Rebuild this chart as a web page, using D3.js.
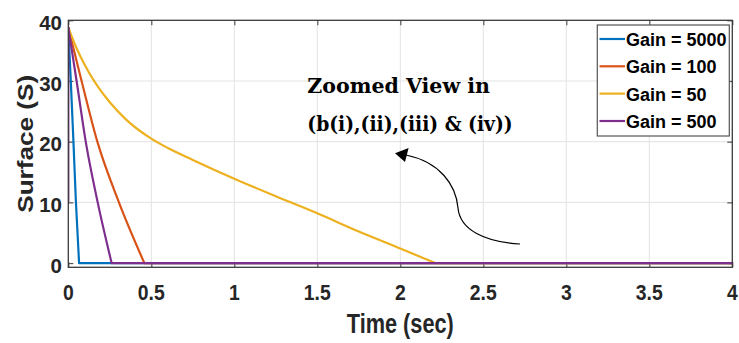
<!DOCTYPE html>
<html>
<head>
<meta charset="utf-8">
<script src="https://cdn.jsdelivr.net/npm/d3@7"></script>
<style>
  html, body { margin: 0; padding: 0; background: #ffffff; }
  svg { display: block; }
</style>
</head>
<body>
<div id="chart"></div>
<script>
// ---------------- data ----------------
const seriesNames = ["Gain = 5000", "Gain = 100", "Gain = 50", "Gain = 500"];
const seriesColors = ["#0072BD", "#D95319", "#EDB120", "#7E2F8E"];

const gain5000Time = [0, 0.015, 0.031, 0.046, 0.065, 4];
const gain5000Surf = [38.8, 30, 20, 10, 0, 0];

const gain100Time = [0, 0.08, 0.175, 0.305, 0.458, 4];
const gain100Surf = [38.8, 30, 20, 10, 0, 0];

const gain50Time = [0, 0.05, 0.1, 0.165, 0.25, 0.35, 0.5, 0.6, 0.75, 1.0, 1.25, 1.5, 1.75, 2.0, 2.21, 4];
const gain50Surf = [38.8, 35.4, 32.6, 29.6, 26.5, 23.6, 20.5, 18.95, 17.0, 13.9, 11.0, 8.2, 5.2, 2.4, 0, 0];

const gain500Time = [0, 0, 0.05, 0.105, 0.177, 0.261, 4];
const gain500Surf = [10, 38.8, 30, 20, 10, 0, 0];

const xTickValues = [0, 0.5, 1, 1.5, 2, 2.5, 3, 3.5, 4];
const xTickLabels = ["0", "0.5", "1", "1.5", "2", "2.5", "3", "3.5", "4"];
const yTickValues = [0, 10, 20, 30, 40];
const yTickLabels = ["0", "10", "20", "30", "40"];

const xAxisTitle = "Time (sec)";
const yAxisTitle = "Surface (S)";
const annotationLines = ["Zoomed View in", "(b(i),(ii),(iii) & (iv))"];

// ---------------- layout ----------------
const W = 739, H = 343;
const plotLeft = 68.3, plotRight = 732.3, plotTop = 20.3, plotBottom = 267.3;

const x = d3.scaleLinear().domain([0, 4]).range([plotLeft, plotRight]);
const y = d3.scaleLinear().domain([-0.7, 40]).range([plotBottom, plotTop]);

const svg = d3.select("#chart").append("svg")
  .attr("width", W).attr("height", H)
  .attr("viewBox", `0 0 ${W} ${H}`);

const axisColor = "#262626";
const sansBold = "'Liberation Sans', Arial, Helvetica, sans-serif";

// grid
const grid = svg.append("g");
grid.selectAll("line.gx").data(xTickValues.slice(1, -1)).join("line")
  .attr("x1", d => x(d)).attr("x2", d => x(d))
  .attr("y1", plotTop).attr("y2", plotBottom)
  .attr("stroke", "#e3e3e3").attr("stroke-width", 1);
grid.selectAll("line.gy").data(yTickValues.filter(v => v > 0 && v < 40)).join("line")
  .attr("x1", plotLeft).attr("x2", plotRight)
  .attr("y1", d => y(d)).attr("y2", d => y(d))
  .attr("stroke", "#e3e3e3").attr("stroke-width", 1);

// axes via d3 axis generators (inner ticks, MATLAB style)
const tickLen = 5;
const bottomAxis = d3.axisBottom(x).tickValues(xTickValues).tickSize(-tickLen).tickFormat("");
const topAxis = d3.axisTop(x).tickValues(xTickValues).tickSize(-tickLen).tickFormat("");
const leftAxis = d3.axisLeft(y).tickValues(yTickValues).tickSize(-tickLen).tickFormat("");
const rightAxis = d3.axisRight(y).tickValues(yTickValues).tickSize(-tickLen).tickFormat("");

function styleAxis(g) {
  g.selectAll("path").remove();
  g.selectAll("line").attr("stroke", "#555").attr("stroke-width", 1.2);
}
svg.append("g").attr("transform", `translate(0,${plotBottom})`).call(bottomAxis).call(styleAxis);
svg.append("g").attr("transform", `translate(0,${plotTop})`).call(topAxis).call(styleAxis);
svg.append("g").attr("transform", `translate(${plotLeft},0)`).call(leftAxis).call(styleAxis);
svg.append("g").attr("transform", `translate(${plotRight},0)`).call(rightAxis).call(styleAxis);

// data lines
const seriesData = [
  gain5000Time.map((t, i) => [t, gain5000Surf[i]]),
  gain100Time.map((t, i) => [t, gain100Surf[i]]),
  gain50Time.map((t, i) => [t, gain50Surf[i]]),
  gain500Time.map((t, i) => [t, gain500Surf[i]])
];
svg.append("clipPath").attr("id", "plotclip").append("rect")
  .attr("x", plotLeft).attr("y", plotTop - 2)
  .attr("width", plotRight - plotLeft).attr("height", plotBottom - plotTop + 2);

const linesG = svg.append("g").attr("clip-path", "url(#plotclip)");
const linearGen = d3.line().x(d => x(d[0])).y(d => y(d[1])).curve(d3.curveLinear);
const smoothGen = d3.line().x(d => x(d[0])).y(d => y(d[1])).curve(d3.curveMonotoneX);

seriesData.forEach((pts, i) => {
  // prefix: points sharing x = 0 (vertical part), descending part smooth, flat tail linear
  let j0 = 0;
  while (j0 + 1 < pts.length && pts[j0 + 1][0] === pts[0][0]) j0++;
  let k = pts.findIndex(p => p[1] === 0);
  const parts = [];
  if (j0 > 0) parts.push([pts.slice(0, j0 + 1), linearGen]);
  parts.push([pts.slice(j0, k + 1), smoothGen]);
  parts.push([pts.slice(k), linearGen]);
  const g = linesG.append("g");
  parts.forEach(([seg, gen]) => {
    g.append("path").datum(seg)
      .attr("d", gen)
      .attr("fill", "none")
      .attr("stroke", seriesColors[i])
      .attr("stroke-width", 2.2)
      .attr("stroke-linejoin", "round")
      .attr("stroke-linecap", "round");
  });
});

// box
svg.append("rect")
  .attr("x", plotLeft).attr("y", plotTop)
  .attr("width", plotRight - plotLeft).attr("height", plotBottom - plotTop)
  .attr("fill", "none").attr("stroke", "#3a3a3a").attr("stroke-width", 1.3);

// tick labels
svg.append("g").selectAll("text").data(yTickValues).join("text")
  .attr("x", 62).attr("y", d => y(d) + 9.8)
  .attr("text-anchor", "end")
  .attr("font-family", sansBold).attr("font-weight", "bold")
  .attr("font-size", 20.5).attr("fill", axisColor)
  .text((d, i) => yTickLabels[i]);

svg.append("g").selectAll("text").data(xTickValues).join("text")
  .attr("transform", d => `translate(${x(d)},300) scale(0.9,1)`)
  .attr("text-anchor", "middle")
  .attr("font-family", sansBold).attr("font-weight", "bold")
  .attr("font-size", 21.5).attr("fill", axisColor)
  .text((d, i) => xTickLabels[i]);

// axis titles
svg.append("text")
  .attr("x", (plotLeft + plotRight) / 2).attr("y", 333)
  .attr("text-anchor", "middle")
  .attr("font-family", sansBold).attr("font-weight", "bold")
  .attr("font-size", 27.5).attr("fill", axisColor)
  .attr("textLength", 107).attr("lengthAdjust", "spacingAndGlyphs")
  .text(xAxisTitle);

svg.append("text")
  .attr("transform", `translate(33,${(plotTop + plotBottom) / 2}) rotate(-90)`)
  .attr("text-anchor", "middle")
  .attr("font-family", sansBold).attr("font-weight", "bold")
  .attr("font-size", 22.3).attr("fill", axisColor)
  .attr("textLength", 138).attr("lengthAdjust", "spacingAndGlyphs")
  .text(yAxisTitle);

// legend
const legX = 597.3, legY = 25, legW = 132, legH = 111;
const legend = svg.append("g");
legend.append("rect")
  .attr("x", legX).attr("y", legY).attr("width", legW).attr("height", legH)
  .attr("fill", "#ffffff").attr("stroke", "#555").attr("stroke-width", 1.2);
const rowY = [39, 66.3, 93.6, 121];
seriesNames.forEach((name, i) => {
  legend.append("line")
    .attr("x1", 599.5).attr("x2", 625)
    .attr("y1", rowY[i]).attr("y2", rowY[i])
    .attr("stroke", seriesColors[i]).attr("stroke-width", 2.2);
  legend.append("text")
    .attr("x", 626).attr("y", rowY[i] + 7)
    .attr("font-family", sansBold).attr("font-weight", "bold")
    .attr("font-size", 18).attr("fill", "#000")
    .text(name);
});

// annotation
const serifBold = "'DejaVu Serif', 'Liberation Serif', serif";
svg.append("text")
  .attr("x", 307.3).attr("y", 93.3)
  .attr("font-family", serifBold).attr("font-weight", "bold")
  .attr("font-size", 20.5).attr("fill", "#000")
  .attr("textLength", 182.7).attr("lengthAdjust", "spacingAndGlyphs")
  .text(annotationLines[0]);
svg.append("text")
  .attr("x", 307.3).attr("y", 130.5)
  .attr("font-family", serifBold).attr("font-weight", "bold")
  .attr("font-size", 20.5).attr("fill", "#000")
  .attr("textLength", 205.4).attr("lengthAdjust", "spacingAndGlyphs")
  .text(annotationLines[1]);

// curved arrow
svg.append("path")
  .attr("d", "M520,244 C485,242 460,230 458,208 C456,185 440,162 406,155")
  .attr("fill", "none").attr("stroke", "#000").attr("stroke-width", 1.2);
svg.append("path")
  .attr("d", "M395,153.3 L408.6,148 L405,161.9 Z")
  .attr("fill", "#000");
</script>
</body>
</html>
